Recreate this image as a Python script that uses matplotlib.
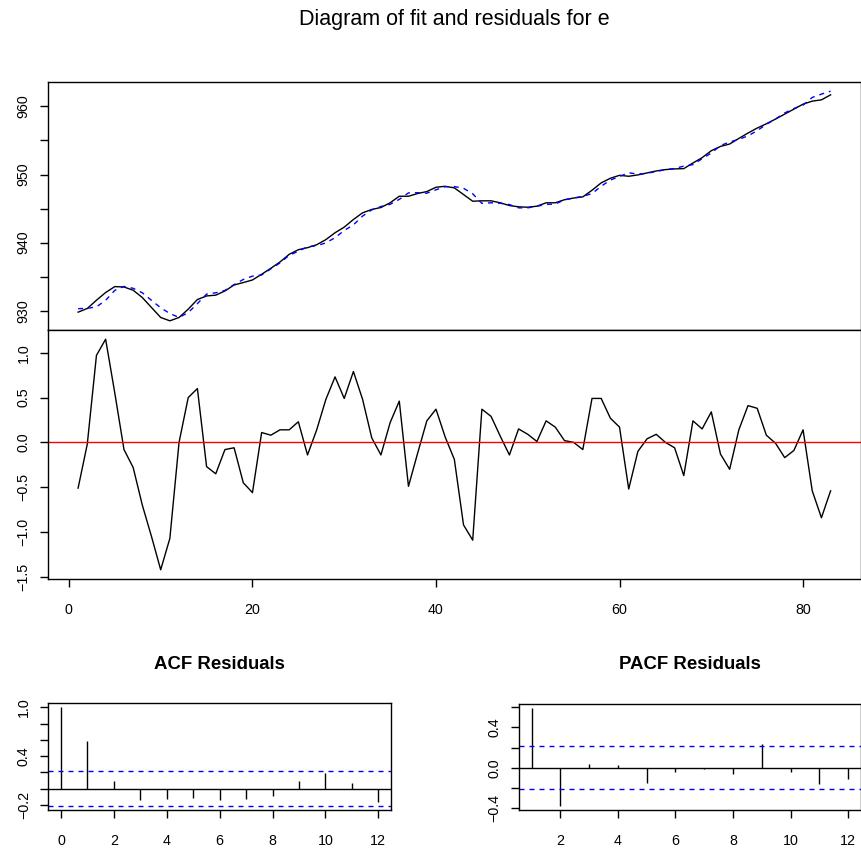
import numpy as np
import matplotlib
matplotlib.use("Agg")
import matplotlib.pyplot as plt
from matplotlib.ticker import MultipleLocator, FixedLocator, FuncFormatter

plt.rcParams['font.family'] = ['Liberation Sans', 'DejaVu Sans']

# observed series and fitted values (t = 1..83)
actual = [929.81, 930.35, 931.56, 932.69, 933.56, 933.50, 933.03, 931.95, 930.49, 929.03,
          928.54, 929.03, 930.25, 931.66, 932.19, 932.30, 932.92, 933.80, 934.15, 934.53,
          935.37, 936.24, 937.17, 938.29, 938.97, 939.27, 939.70, 940.45, 941.46, 942.28,
          943.40, 944.38, 944.87, 945.16, 945.85, 946.81, 946.81, 947.21, 947.50, 948.13,
          948.27, 948.04, 947.06, 946.08, 946.14, 946.14, 945.85, 945.45, 945.26, 945.20,
          945.35, 945.85, 945.85, 946.30, 946.55, 946.72, 947.69, 948.77, 949.45, 949.88,
          949.74, 949.94, 950.23, 950.52, 950.72, 950.82, 950.86, 951.69, 952.47, 953.49,
          954.12, 954.47, 955.29, 956.08, 956.81, 957.44, 958.13, 958.86, 959.59, 960.32,
          960.76, 960.95, 961.68]
fitted = [930.32, 930.37, 930.59, 931.54, 933.01, 933.58, 933.31, 932.65, 931.54, 930.45,
          929.61, 929.03, 929.75, 931.06, 932.46, 932.65, 933.00, 933.86, 934.60, 935.09,
          935.26, 936.16, 937.03, 938.15, 938.74, 939.41, 939.56, 939.97, 940.73, 941.79,
          942.61, 943.90, 944.82, 945.30, 945.63, 946.35, 947.30, 947.33, 947.26, 947.76,
          948.21, 948.23, 947.98, 947.17, 945.77, 945.85, 945.78, 945.59, 945.11, 945.11,
          945.34, 945.61, 945.68, 946.28, 946.55, 946.80, 947.20, 948.28, 949.18, 949.71,
          950.26, 950.04, 950.19, 950.43, 950.72, 950.88, 951.23, 951.45, 952.32, 953.15,
          954.25, 954.77, 955.15, 955.67, 956.43, 957.36, 958.14, 959.03, 959.68, 960.18,
          961.30, 961.79, 962.22]
resid = [-0.51, -0.02, 0.97, 1.15, 0.55, -0.08, -0.28, -0.70, -1.05, -1.42,
         -1.07, 0.00, 0.50, 0.60, -0.27, -0.35, -0.08, -0.06, -0.45, -0.56,
         0.11, 0.08, 0.14, 0.14, 0.23, -0.14, 0.14, 0.48, 0.73, 0.49,
         0.79, 0.48, 0.05, -0.14, 0.22, 0.46, -0.49, -0.12, 0.24, 0.37,
         0.06, -0.19, -0.92, -1.09, 0.37, 0.29, 0.07, -0.14, 0.15, 0.09,
         0.01, 0.24, 0.17, 0.02, 0.00, -0.08, 0.49, 0.49, 0.27, 0.17,
         -0.52, -0.10, 0.04, 0.09, 0.00, -0.06, -0.37, 0.24, 0.15, 0.34,
         -0.13, -0.30, 0.14, 0.41, 0.38, 0.08, -0.01, -0.17, -0.09, 0.14,
         -0.54, -0.84, -0.54]
t = np.arange(1, len(actual) + 1)

acf_lags = list(range(0, 13))
acf_vals = [1.0, 0.588, 0.095, -0.14, -0.128, -0.12, -0.14, -0.123, -0.086, 0.095, 0.19, 0.066, -0.165]
pacf_lags = list(range(1, 13))
pacf_vals = [0.592, -0.379, 0.036, 0.023, -0.146, -0.045, -0.01, -0.065, 0.236, -0.042, -0.162, -0.107]
conf = 0.215

W, H = 861, 849
fig = plt.figure(figsize=(W / 100, H / 100), dpi=100)


def box(l, t_, r, b):
    return [l / W, 1 - b / H, (r - l) / W, (b - t_) / H]


def minus(fmt):
    return FuncFormatter(lambda v, p: (fmt % v).replace('-', '\u2212'))


def style(ax):
    for s in ax.spines.values():
        s.set_linewidth(1.0)
    ax.tick_params(length=6, width=1.0, labelsize=10.3, direction='out')
    ax.tick_params(axis='y', pad=6.5)
    ax.tick_params(axis='x', pad=11)
    for lab in ax.get_yticklabels():
        lab.set_rotation(90)
        lab.set_va('center')


ax_fit = fig.add_axes(box(48, 82, 860.7, 330))
ax_res = fig.add_axes(box(48, 330, 860.7, 579), sharex=ax_fit)
ax_acf = fig.add_axes(box(48.3, 703.3, 391, 810))
ax_pacf = fig.add_axes(box(519, 704, 860.7, 810))

# fit
ax_fit.plot(t, actual, color='black', lw=1.0)
ax_fit.plot(t, fitted, color='#0000FF', lw=1.0, linestyle=(0, (3.6, 3.6)))
ax_fit.margins(0.04)
ax_fit.yaxis.set_major_locator(MultipleLocator(5))
ax_fit.yaxis.set_major_formatter(FuncFormatter(lambda v, p: '%d' % v if round(v) % 10 == 0 else ''))
ax_fit.tick_params(axis='x', bottom=False, labelbottom=False)
ax_fit.set_title('Diagram of fit and residuals for e', fontsize=15.5, pad=41)

# residuals
ax_res.plot(t, resid, color='black', lw=1.0)
ax_res.axhline(0, color='#FF0000', lw=1.0)
ax_res.margins(0.04)
ax_res.yaxis.set_major_locator(MultipleLocator(0.5))
ax_res.yaxis.set_major_formatter(minus('%.1f'))
ax_res.xaxis.set_major_locator(MultipleLocator(20))
ax_res.xaxis.set_major_formatter(FuncFormatter(lambda v, p: '%d' % v))

# ACF
ax_acf.vlines(acf_lags, 0, acf_vals, color='black', lw=1.0)
ax_acf.axhline(0, color='black', lw=1.0)
ax_acf.axhline(conf, color='#0000FF', lw=1.0, linestyle=(0, (3.6, 3.6)))
ax_acf.axhline(-conf, color='#0000FF', lw=1.0, linestyle=(0, (3.6, 3.6)))
ax_acf.margins(0.04)
ax_acf.yaxis.set_major_locator(FixedLocator([-0.2, 0.0, 0.2, 0.4, 0.6, 0.8, 1.0]))
ax_acf.yaxis.set_major_formatter(FuncFormatter(
    lambda v, p: ('%.1f' % v).replace('-', '\u2212') if p in (0, 3, 6) else ''))
ax_acf.xaxis.set_major_locator(FixedLocator(range(0, 13, 2)))
ax_acf.set_title('ACF Residuals', fontsize=13.4, fontweight='bold', pad=25)

# PACF
ax_pacf.vlines(pacf_lags, 0, pacf_vals, color='black', lw=1.0)
ax_pacf.axhline(0, color='black', lw=1.0)
ax_pacf.axhline(conf, color='#0000FF', lw=1.0, linestyle=(0, (3.6, 3.6)))
ax_pacf.axhline(-conf, color='#0000FF', lw=1.0, linestyle=(0, (3.6, 3.6)))
ax_pacf.margins(0.04)
ax_pacf.yaxis.set_major_locator(FixedLocator([-0.4, -0.2, 0.0, 0.2, 0.4, 0.6]))
ax_pacf.yaxis.set_major_formatter(FuncFormatter(
    lambda v, p: ('%.1f' % v).replace('-', '\u2212') if p in (0, 2, 4) else ''))
ax_pacf.xaxis.set_major_locator(FixedLocator(range(2, 13, 2)))
ax_pacf.set_title('PACF Residuals', fontsize=13.4, fontweight='bold', pad=25)

for ax in (ax_fit, ax_res, ax_acf, ax_pacf):
    style(ax)

fig.savefig('out.png', dpi=100)
